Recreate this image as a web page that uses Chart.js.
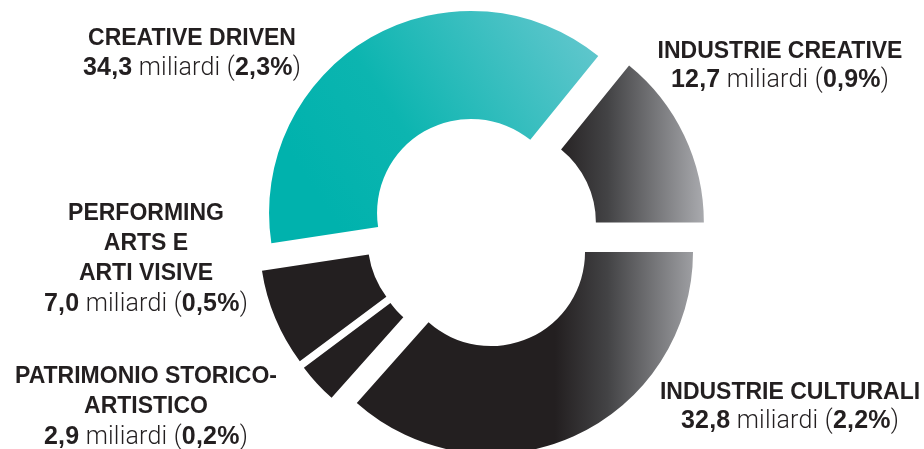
<!DOCTYPE html>
<html>
<head>
<meta charset="utf-8">
<script src="https://cdn.jsdelivr.net/npm/chart.js@4"></script>
<style>
  html, body { margin: 0; padding: 0; background: #fff; }
  #wrap { position: relative; width: 924px; height: 449px; overflow: hidden; }
  canvas { position: absolute; left: 0; top: 0; }
  .lbl { position: absolute; transform: translateX(-50%); text-align: center; white-space: nowrap;
         font-family: "Liberation Sans", Arial, sans-serif; color: #231f20; font-size: 23px; }
  .lbl .t { font-weight: bold; }
  .lbl .v { font-size: 25px; letter-spacing: 0.2px; }
  .lbl .v b { font-weight: bold; }
  .lbl .v span { font-family: Roboto, "Liberation Sans", sans-serif; font-weight: 300; }
</style>
</head>
<body>
<div id="wrap">
  <canvas id="c" width="924" height="449"></canvas>
</div>
<script>
// ---- data ----
const categories = ['CREATIVE DRIVEN', 'INDUSTRIE CREATIVE', 'INDUSTRIE CULTURALI', 'PATRIMONIO STORICO-ARTISTICO', 'PERFORMING ARTS E ARTI VISIVE'];
const labelLines = [
  ['CREATIVE DRIVEN'],
  ['INDUSTRIE CREATIVE'],
  ['INDUSTRIE CULTURALI'],
  ['PATRIMONIO STORICO-', 'ARTISTICO'],
  ['PERFORMING', 'ARTS E', 'ARTI VISIVE']
];
const values = [34.3, 12.7, 32.8, 2.9, 7.0];      // miliardi
const shares = ['2,3%', '0,9%', '2,2%', '0,2%', '0,5%'];
const unit = 'miliardi';

// ---- label placement (centre x, top y, line height) ----
const labelPos = [
  { x: 192, y: 23, lh: 29 },
  { x: 780, y: 36, lh: 28 },
  { x: 790, y: 377, lh: 28 },
  { x: 146, y: 360, lh: 30 },
  { x: 146, y: 197, lh: 30 }
];

const wrap = document.getElementById('wrap');
categories.forEach((cat, i) => {
  const d = document.createElement('div');
  d.className = 'lbl';
  d.style.left = labelPos[i].x + 'px';
  d.style.top = labelPos[i].y + 'px';
  d.style.lineHeight = labelPos[i].lh + 'px';
  const vtxt = values[i].toFixed(1).replace('.', ',');
  d.innerHTML = labelLines[i].map(l => '<div class="t">' + l + '</div>').join('') +
    '<div class="v"><b>' + vtxt + '</b><span> ' + unit + ' (</span><b>' + shares[i] + '</b><span>)</span></div>';
  wrap.appendChild(d);
});

const total = values.reduce((a, b) => a + b, 0);
// Segment boundary between INDUSTRIE CREATIVE and INDUSTRIE CULTURALI lies at 3 o'clock
const rotation = 90 - (values[0] + values[1]) / total * 360;

const EXPLODE = 22;
const explode = {
  id: 'explode',
  afterDatasetUpdate(chart, args) {
    args.meta.data.forEach(a => {
      const m = (a.startAngle + a.endAngle) / 2;
      a.x += Math.cos(m) * EXPLODE;
      a.y += Math.sin(m) * EXPLODE;
    });
  }
};

function fillFor(ctx) {
  const c = ctx.chart.ctx;
  const i = ctx.dataIndex;
  if (i === 0) {
    const g = c.createLinearGradient(330, 215, 590, 45);
    g.addColorStop(0, '#00b2ad');
    g.addColorStop(0.35, '#0cb5b0');
    g.addColorStop(1, '#5ec6cc');
    return g;
  }
  if (i === 1 || i === 2) {
    const g = c.createLinearGradient(555, 0, 705, 0);
    g.addColorStop(0, '#231f20');
    g.addColorStop(0.35, '#434345');
    g.addColorStop(1, '#aaabaf');
    return g;
  }
  return '#231f20';
}

new Chart(document.getElementById('c'), {
  type: 'doughnut',
  data: {
    labels: categories,
    datasets: [{
      data: values,
      backgroundColor: fillFor,
      borderWidth: 0,
      radius: 202,
      cutout: 101
    }]
  },
  options: {
    responsive: false,
    animation: false,
    events: [],
    rotation: rotation,
    layout: { padding: { left: 40, top: 15, right: 0, bottom: 0 } },
    plugins: { legend: { display: false }, tooltip: { enabled: false } }
  },
  plugins: [explode]
});
</script>
</body>
</html>
